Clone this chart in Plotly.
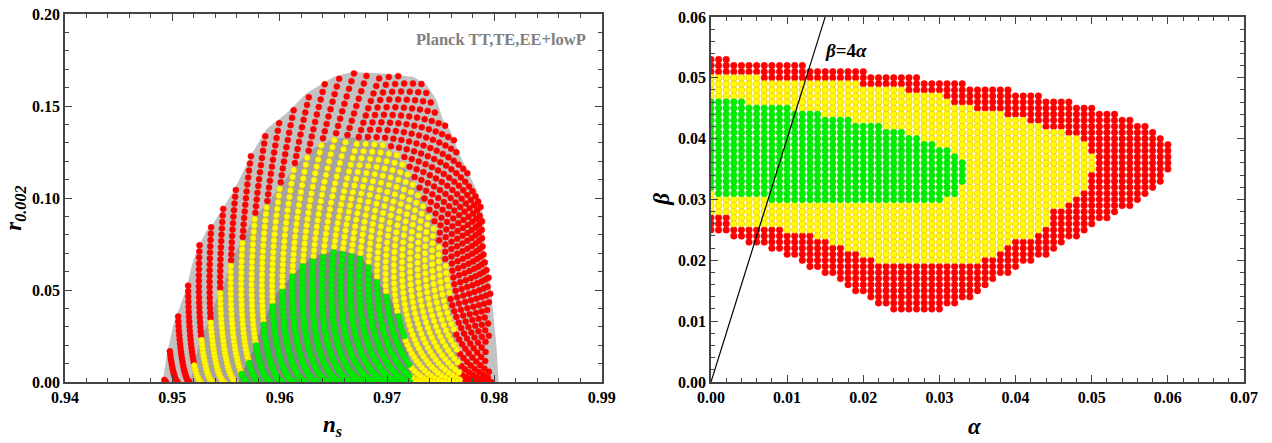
import numpy as np
import plotly.graph_objects as go

# ---------------- Right panel: (alpha, beta) scan, read row by row ----------------
# beta rows in units of 0.001; per row the alpha index range (units of 0.001)
beta_rows = list(range(12, 54))
red_first = [24, 22, 21, 19, 18, 17, 15, 13, 12, 10, 8, 5, 3] + [0] * 29
red_last = [30, 32, 34, 35, 36, 37, 39, 40, 42, 44, 45, 46, 48,
            49, 50, 52, 53, 55, 56, 57, 58, 59, 59,
            60, 60, 60, 60, 60,
            59, 58, 57, 55, 53, 50, 47, 43, 39, 33, 27, 20, 12, 2]
yellow_first = [None] * 8 + [22, 20, 18, 16, 14, 10, 3, 3] + [0] * 23 + [None] * 3
yellow_last = [None] * 8 + [35, 37, 38, 39, 42, 43, 44, 44] + \
    [44, 46, 47, 48, 49, 49, 49, 50, 50, 50, 49, 49, 48, 46, 43, 41, 38, 34, 31, 30, 25, 19, 6] + [None] * 3
green_first = [None] * 18 + [8, 1] + [0] * 15 + [None] * 7
green_last = [None] * 18 + [30, 32, 32, 33, 33, 33, 33, 32, 31, 29, 27, 25, 22, 18, 14, 10, 4] + [None] * 7
GRID_STEP = 0.001

# ---------------- Left panel: Planck contours (n_s, r) ----------------
outer_ns = [0.9491, 0.9495, 0.9501, 0.9513, 0.9518, 0.9523, 0.9532, 0.9538, 0.9557, 0.9575, 0.9588,
            0.9607, 0.9625, 0.9650, 0.9667, 0.9697, 0.9725, 0.9737, 0.9746, 0.9752, 0.9759, 0.9768,
            0.9784, 0.9790, 0.9791, 0.9796, 0.9799, 0.9802, 0.9804]
outer_r = [0.0, 0.0153, 0.0312, 0.0505, 0.0631, 0.0718, 0.0824, 0.0860, 0.1037, 0.1250, 0.1376,
           0.1463, 0.1569, 0.1658, 0.1685, 0.1676, 0.1658, 0.1614, 0.1534, 0.1428, 0.1365, 0.1233,
           0.1037, 0.0896, 0.0701, 0.0550, 0.0372, 0.0195, 0.0]
mid_ns = [0.9517, 0.9526, 0.9535, 0.9541, 0.9546, 0.9557, 0.9575, 0.9600, 0.9613, 0.9631, 0.9650,
          0.9666, 0.9685, 0.9697, 0.9709, 0.9721, 0.9737, 0.9746, 0.9756, 0.9760, 0.9765, 0.9770]
mid_r = [0.0, 0.0239, 0.0337, 0.0452, 0.0497, 0.0683, 0.0880, 0.1055, 0.1162, 0.1268, 0.1320,
         0.1330, 0.1315, 0.1286, 0.1233, 0.1126, 0.0966, 0.0789, 0.0612, 0.0372, 0.0195, 0.0]
inner_ns = [0.9561, 0.9575, 0.9582, 0.9591, 0.9597, 0.9613, 0.9628, 0.9641, 0.9656, 0.9669,
            0.9681, 0.9690, 0.9703, 0.9712, 0.9718, 0.9724]
inner_r = [0.0, 0.0169, 0.0284, 0.0408, 0.0479, 0.0585, 0.0674, 0.0700, 0.0710, 0.0700,
           0.0647, 0.0559, 0.0452, 0.0346, 0.0204, 0.0]

# model read-off: n_s at alpha=0 at two beta values, r at the largest alpha, drift of n_s
NS0_BETA = [0.025, 0.053]
NS0_VALUE = [0.9797, 0.9494]
R_TOP, ALPHA_TOP, R_POWER, BETA_MID = 0.165, 0.060, 1.5, 0.036
R_TILT_LOW, R_TILT_HIGH = 0.30, 0.08
DRIFT_AMP, DRIFT_BETA0, DRIFT_SCALE, DRIFT_ROOT = 20.0, 0.012, 0.0151, 0.054

# ---------------- build the scan points ----------------
pts = {"red": ([], []), "yellow": ([], []), "green": ([], [])}
all_a, all_b = [], []
for k, j in enumerate(beta_rows):
    for i in range(red_first[k], red_last[k] + 1):
        c = "red"
        if yellow_first[k] is not None and yellow_first[k] <= i <= yellow_last[k]:
            c = "yellow"
        if green_first[k] is not None and green_first[k] <= i <= green_last[k]:
            c = "green"
        pts[c][0].append(i * GRID_STEP)
        pts[c][1].append(j * GRID_STEP)
        all_a.append(i * GRID_STEP)
        all_b.append(j * GRID_STEP)

slope = (NS0_VALUE[1] - NS0_VALUE[0]) / (NS0_BETA[1] - NS0_BETA[0])


def to_ns_r(a, b):
    a = np.asarray(a)
    b = np.asarray(b)
    ns0 = NS0_VALUE[0] + slope * (b - NS0_BETA[0])
    drift = DRIFT_AMP * np.exp(-(b - DRIFT_BETA0) / DRIFT_SCALE) * a * (a - DRIFT_ROOT)
    d = (b - BETA_MID) / 0.01
    tilt = np.where(d < 0, 1 - R_TILT_LOW * d, 1 + R_TILT_HIGH * d)
    r = R_TOP * (a / ALPHA_TOP) ** R_POWER * tilt
    return ns0 + drift, r


def inside(px, py, polx, poly):
    px = np.asarray(px)
    py = np.maximum(np.asarray(py), 1e-6)
    polx = np.asarray(polx)
    poly = np.asarray(poly)
    res = np.zeros(px.shape, dtype=bool)
    n = len(polx)
    for k in range(n):
        x1, y1 = polx[k], poly[k]
        x2, y2 = polx[(k + 1) % n], poly[(k + 1) % n]
        cond = (y1 > py) != (y2 > py)
        with np.errstate(divide="ignore", invalid="ignore"):
            xc = x1 + (py - y1) * (x2 - x1) / (y2 - y1)
        res ^= cond & (px < xc)
    return res


COL = {"red": "#ff0000", "yellow": "#ffff00", "green": "#00ee00"}
EDGE = {"red": "#ff0000", "yellow": "#f2b800", "green": "#00d800"}

fig = go.Figure()
for xs, ys, fc in [(outer_ns, outer_r, "#c2c2c2"), (mid_ns, mid_r, "#a2a2a2"), (inner_ns, inner_r, "#858585")]:
    fig.add_trace(go.Scatter(x=xs, y=ys, fill="toself", fillcolor=fc, mode="lines",
                             line=dict(width=0, color=fc), hoverinfo="skip",
                             xaxis="x", yaxis="y", showlegend=False))

# left panel: the same scan points mapped to (n_s, r), coloured by the contour they fall in
ns_all, r_all = to_ns_r(all_a, all_b)
in_out = inside(ns_all, r_all, outer_ns, outer_r)
in_mid = inside(ns_all, r_all, mid_ns, mid_r)
in_in = inside(ns_all, r_all, inner_ns, inner_r)
groups = {"red": in_out & ~in_mid, "yellow": in_mid & ~in_in, "green": in_in}
for c in ["red", "yellow", "green"]:
    m = groups[c]
    fig.add_trace(go.Scatter(x=ns_all[m], y=r_all[m], mode="markers", xaxis="x", yaxis="y", showlegend=False,
                             marker=dict(size=6, color=COL[c], line=dict(width=0.5, color=EDGE[c]))))

for c in ["red", "yellow", "green"]:
    fig.add_trace(go.Scatter(x=pts[c][0], y=pts[c][1], mode="markers", xaxis="x2", yaxis="y2",
                             showlegend=False,
                             marker=dict(size=6.5, color=COL[c], line=dict(width=0.6, color=EDGE[c]))))

LINE_SLOPE = 4.0
line_a = np.array([0.0, 0.06 / LINE_SLOPE])
fig.add_trace(go.Scatter(x=line_a, y=LINE_SLOPE * line_a, mode="lines", xaxis="x2", yaxis="y2",
                         showlegend=False, line=dict(color="black", width=1.2)))

TICKFONT = dict(family="Liberation Serif", size=16, color="black", weight="bold")
common = dict(showgrid=False, zeroline=False, showline=True, linecolor="#444444", linewidth=1.5,
              ticks="inside", ticklen=7, tickwidth=1.2, tickcolor="#444444", mirror="allticks",
              tickfont=TICKFONT, tickformat=".2f")

fig.update_layout(
    width=1272, height=443, paper_bgcolor="white", plot_bgcolor="white",
    margin=dict(l=65, r=28, t=6, b=61),
    xaxis=dict(domain=[0, 0.4552], range=[0.94, 0.99], dtick=0.01, tick0=0.94, anchor="y",
               minor=dict(dtick=0.002, ticks="inside", ticklen=4, tickcolor="#444444"), **common),
    yaxis=dict(domain=[0, 1], range=[0, 0.2], dtick=0.05, tick0=0, anchor="x",
               minor=dict(dtick=0.01, ticks="inside", ticklen=4, tickcolor="#444444"), **common),
    xaxis2=dict(domain=[0.5479, 1], range=[0, 0.07], dtick=0.01, tick0=0, anchor="y2",
                minor=dict(dtick=0.002, ticks="inside", ticklen=4, tickcolor="#444444"), **common),
    yaxis2=dict(domain=[0, 0.992], range=[0, 0.06], dtick=0.01, tick0=0, anchor="x2",
                minor=dict(dtick=0.002, ticks="inside", ticklen=4, tickcolor="#444444"), **common),
)

TF = dict(family="Liberation Serif", size=23, color="black")
fig.add_annotation(xref="paper", yref="paper", x=-0.0424, y=0.471, textangle=-90, showarrow=False,
                   xanchor="center", yanchor="middle",
                   text="<b><i>r</i></b><sub><b><i>0.002</i></b></sub>", font=TF)
fig.add_annotation(xref="paper", yref="paper", x=0.2265, y=-0.12, showarrow=False,
                   xanchor="center", yanchor="middle",
                   text="<b><i>n</i></b><sub><b><i>s</i></b></sub>", font=TF)
fig.add_annotation(xref="paper", yref="paper", x=0.5053, y=0.497, textangle=-90, showarrow=False,
                   xanchor="center", yanchor="middle",
                   text="<b><i>β</i></b>", font=TF)
fig.add_annotation(xref="paper", yref="paper", x=0.7718, y=-0.12, showarrow=False,
                   xanchor="center", yanchor="middle",
                   text="<b><i>α</i></b>", font=TF)
fig.add_annotation(xref="x", yref="y", x=0.9725, y=0.186, xanchor="left", yanchor="middle", showarrow=False,
                   text="<b>Planck TT,TE,EE+lowP</b>",
                   font=dict(family="Liberation Serif", size=16.5, color="#808080"))
fig.add_annotation(xref="x2", yref="y2", x=0.01466, y=0.0545, xanchor="left", yanchor="middle", showarrow=False,
                   text="<b><i>β</i>=4<i>α</i></b>",
                   font=dict(family="Liberation Serif", size=19, color="black"))

fig.write_html("out.html")
